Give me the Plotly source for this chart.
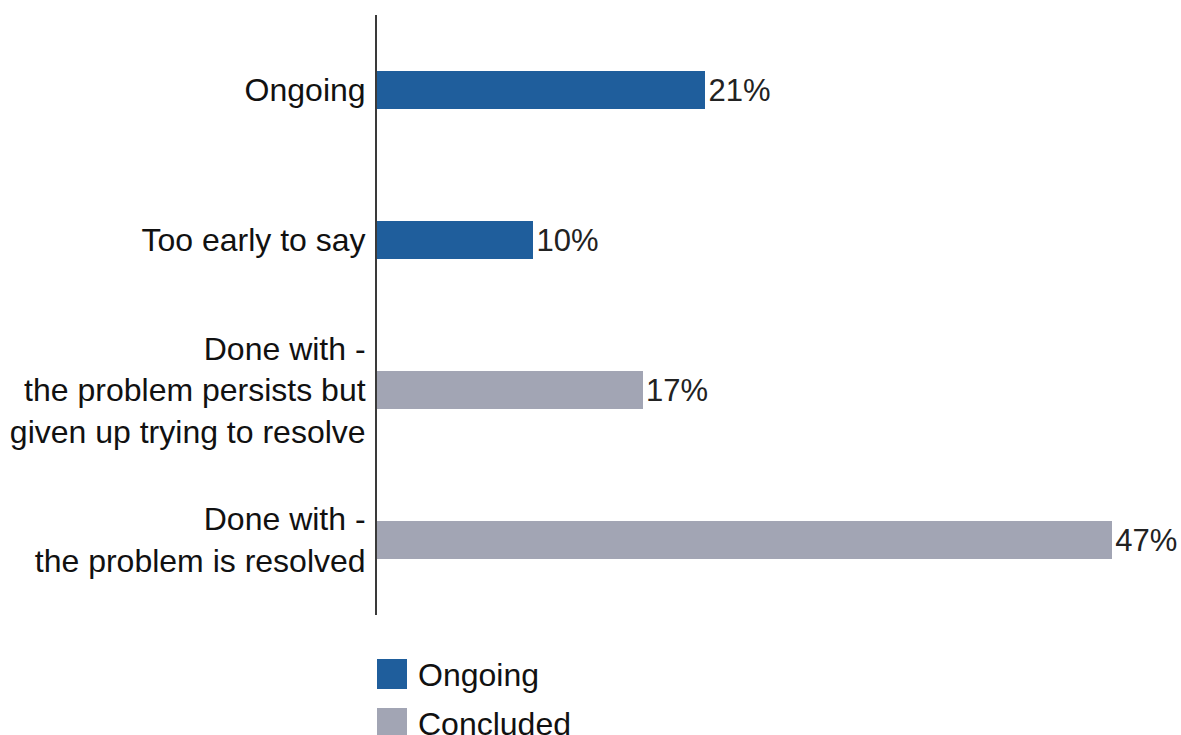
import plotly.graph_objects as go

# Survey outcome categories (top to bottom) and shares in percent
categories = [
    "Ongoing",
    "Too early to say",
    "Done with -<br>the problem persists but<br>given up trying to resolve",
    "Done with -<br>the problem is resolved",
]
groups = ["Ongoing", "Ongoing", "Concluded", "Concluded"]
values = [21, 10, 17, 47]

group_colors = {"Ongoing": "#1F5E9C", "Concluded": "#A2A5B4"}
legend_order = ["Ongoing", "Concluded"]

FONT = "Liberation Sans, Arial, sans-serif"
W, H = 1181, 735
M_L, M_R, M_T, M_B = 377, 0, 15, 120
PW, PH = W - M_L - M_R, H - M_T - M_B

fig = go.Figure()
for g in legend_order:
    ys = [c for c, gg in zip(categories, groups) if gg == g]
    xs = [v for v, gg in zip(values, groups) if gg == g]
    fig.add_trace(go.Bar(
        x=xs, y=ys, orientation="h", name=g,
        marker=dict(color=group_colors[g], line=dict(width=0)),
        text=[f"{v}%" for v in xs], textposition="outside",
        textfont=dict(family=FONT, size=31, color="#222222"),
        cliponaxis=False, showlegend=False,
    ))


def px(xp):
    return (xp - M_L) / PW


def py(yp):
    return (M_T + PH - yp) / PH


# Legend drawn as swatches plus labels below the plot
shapes, annotations = [], []
for i, g in enumerate(legend_order):
    top = 659 + i * 49
    shapes.append(dict(type="rect", xref="paper", yref="paper",
                       x0=px(377), x1=px(407), y0=py(top + 30), y1=py(top),
                       fillcolor=group_colors[g], line=dict(width=0)))
    annotations.append(dict(xref="paper", yref="paper", x=px(416), y=py(top + 16),
                            xanchor="left", yanchor="middle", showarrow=False,
                            text=g, font=dict(family=FONT, size=32, color="#111111")))

fig.update_layout(
    width=W, height=H,
    margin=dict(l=M_L, r=M_R, t=M_T, b=M_B, autoexpand=False),
    paper_bgcolor="white", plot_bgcolor="white",
    barmode="stack", bargap=0.745,
    shapes=shapes, annotations=annotations,
    uniformtext=dict(mode=False),
)
fig.update_xaxes(range=[0, 51.4], visible=False, fixedrange=True)
fig.update_yaxes(
    categoryorder="array", categoryarray=categories[::-1],
    range=[-0.5, 3.5], automargin=False,
    showline=True, linecolor="#3A3A3A", linewidth=2,
    showgrid=False, zeroline=False, ticks="",
    ticklabelstandoff=3,
    tickfont=dict(family=FONT, size=32, color="#111111"),
)

fig.write_html("out.html")
